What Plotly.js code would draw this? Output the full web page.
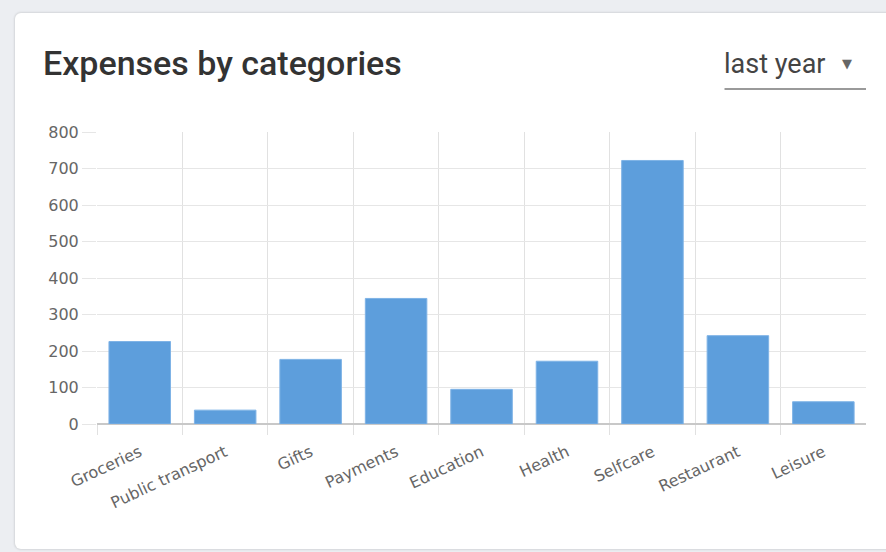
<!DOCTYPE html>
<html>
<head>
<meta charset="utf-8">
<script src="https://cdn.plot.ly/plotly-3.0.1.min.js"></script>
<style>
  html, body { margin: 0; padding: 0; width: 886px; height: 552px; overflow: hidden; background: #eceef2; }
  #card { position: absolute; left: 15px; top: 13px; width: 890px; height: 536px; background: #ffffff;
          border-radius: 6px; box-shadow: 0 0 2px 1px rgba(0,0,0,0.10); }
  #chart { position: absolute; left: 0; top: 0; width: 886px; height: 552px; }
</style>
</head>
<body>
<div id="card"></div>
<div id="chart"></div>
<script>
const titleText = "Expenses by categories";
const periodText = "last year";
const categories = ["Groceries", "Public transport", "Gifts", "Payments", "Education", "Health", "Selfcare", "Restaurant", "Leisure"];
const expenses = [226, 38, 177, 344, 95, 172, 722, 242, 61];
const yTicks = [0, 100, 200, 300, 400, 500, 600, 700, 800];

const trace = {
  type: "bar",
  x: categories,
  y: expenses,
  width: 0.72,
  marker: { color: "#5d9edc", line: { color: "#7fb3e6", width: 1 } },
  hoverinfo: "x+y"
};

const tickFont = { family: "DejaVu Sans, sans-serif", size: 16, color: "#666" };

const layout = {
  width: 886, height: 552,
  margin: { l: 97, r: 20, t: 132, b: 128 },
  paper_bgcolor: "rgba(0,0,0,0)",
  plot_bgcolor: "rgba(0,0,0,0)",
  showlegend: false,
  font: { family: "Roboto, Arial, sans-serif", color: "#666" },
  xaxis: {
    type: "category",
    range: [-0.5, 8.499],
    tickson: "boundaries",
    showgrid: true,
    gridcolor: "#e1e1e1",
    gridwidth: 1,
    ticks: "outside",
    ticklen: 10,
    tickcolor: "#e1e1e1",
    tickangle: -25,
    ticklabelstandoff: 15,
    tickfont: tickFont,
    showline: false,
    zeroline: false,
    fixedrange: true
  },
  yaxis: {
    range: [0, 800],
    tickvals: yTicks,
    ticktext: yTicks.map(String),
    showgrid: true,
    gridcolor: "#e6e6e6",
    gridwidth: 1,
    ticks: "outside",
    ticklen: 14,
    tickcolor: "#e6e6e6",
    ticklabelstandoff: 0,
    tickfont: tickFont,
    zeroline: true,
    zerolinecolor: "#c8c8c8",
    zerolinewidth: 1.5,
    showline: false,
    fixedrange: true
  },
  annotations: [
    { xref: "paper", yref: "paper", x: -0.073, y: 1.236, xanchor: "left", yanchor: "middle",
      text: titleText, showarrow: false,
      font: { family: "Roboto, sans-serif", size: 34, weight: 500, color: "#333" } },
    { xref: "paper", yref: "paper", x: 0.813, y: 1.232, xanchor: "left", yanchor: "middle",
      text: periodText, showarrow: false,
      font: { family: "Roboto, sans-serif", size: 27, color: "#444" } },
    { xref: "paper", yref: "paper", x: 0.966, y: 1.234, xanchor: "left", yanchor: "middle",
      text: "▼", showarrow: false,
      font: { family: "DejaVu Sans, sans-serif", size: 13, color: "#666" } }
  ],
  shapes: [
    { type: "line", xref: "paper", yref: "paper", x0: 0.816, x1: 1.0, y0: 1.147, y1: 1.147,
      line: { color: "#9a9a9a", width: 2 } }
  ]
};

Plotly.newPlot("chart", [trace], layout, { displayModeBar: false, staticPlot: true });
</script>
</body>
</html>
